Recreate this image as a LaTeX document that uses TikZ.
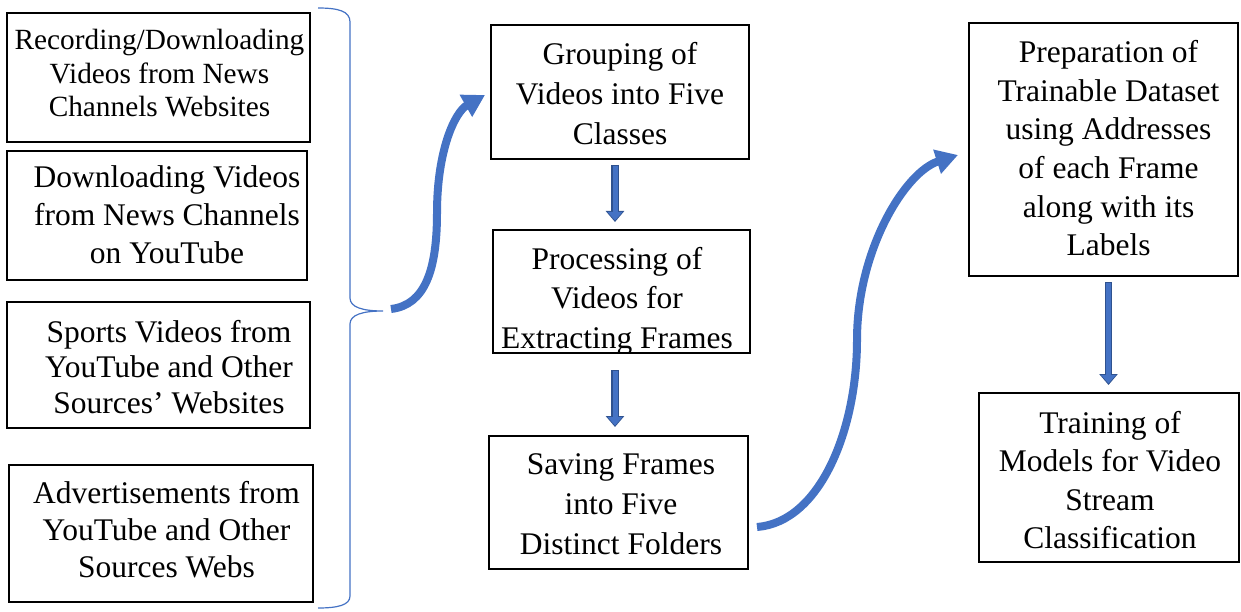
\documentclass[tikz,border=0pt]{standalone}
\usepackage{fontspec}
\setmainfont{Liberation Serif}
\usetikzlibrary{arrows.meta,calc,fit}
\definecolor{bfill}{HTML}{4472C4}
\definecolor{bline}{HTML}{2F528F}
\begin{document}
\begin{tikzpicture}[x=1pt,y=-1pt,
  box/.style={draw=black,line width=1.6pt,rectangle,inner sep=0pt,outer sep=0pt},
  txt/.style={align=center,anchor=base,inner sep=0pt,font=\fontsize{31.5}{39.5}\selectfont},
  brace/.style={draw=bfill,line width=1.2pt},
  flow/.style={draw=bfill,line width=8pt,-{Triangle[length=22pt,width=24pt]}},
  downout/.style={draw=bline,line width=7.5pt,-{Triangle[length=11pt,width=18pt]}},
  downin/.style={draw=bfill,line width=5pt,-{Triangle[length=8.5pt,width=14.5pt]}}]
\useasboundingbox (0,0) rectangle (1241,612);

% source boxes (text nodes are placed by the baseline of their last line)
\node[box,fit={(7,13) (310,142)}] (rec) {};
\node[txt,font=\fontsize{29.3}{33.5}\selectfont] (rect) at (159.5,117) {Recording/Downloading\\Videos from News\\Channels Websites};
\node[box,fit={(7,151) (307,280)}] (ytb) {};
\node[txt,font=\fontsize{31.5}{37.5}\selectfont] (ytbt) at (167,263) {Downloading Videos\\from News Channels\\on YouTube};
\node[box,fit={(7,302) (310,428)}] (spo) {};
\node[txt,font=\fontsize{31.5}{35.5}\selectfont] (spot) at (169,413) {Sports Videos from\\YouTube and Other\\Sources' Websites};
\node[box,fit={(9,465) (313,602)}] (adv) {};
\node[txt,font=\fontsize{31.5}{37}\selectfont] (advt) at (166.5,577) {Advertisements from\\YouTube and Other\\Sources Webs};

% brace gathering the sources
\coordinate (btip) at (383,311);
\draw[brace] (318,8) .. controls (338,8) and (350,11) .. (350,22) -- (350,298)
  .. controls (350,307) and (362,311) .. (btip)
  .. controls (362,311) and (350,315) .. (350,324) -- (350,596)
  .. controls (350,605) and (338,608) .. (318,608);

% middle column
\node[box,fit={(491,25) (749,159)}] (grp) {};
\node[txt,font=\fontsize{31.5}{40}\selectfont] (grpt) at (620,145) {Grouping of\\Videos into Five\\Classes};
\node[box,fit={(493,230) (750,353)}] (proc) {};
\begin{scope}
  \clip (proc.south west) rectangle (proc.north east);
  \node[txt] (proct) at (617,348) {Processing of\\Videos for\\Extracting Frames};
\end{scope}
\node[box,fit={(489,436) (748,569)}] (save) {};
\node[txt,font=\fontsize{31.5}{40}\selectfont] (savet) at (621,554) {Saving Frames\\into Five\\Distinct Folders};

% right column
\node[box,fit={(969,23) (1238,276)}] (prep) {};
\node[txt,font=\fontsize{31.5}{38.5}\selectfont] (prept) at (1108.5,255.5) {Preparation of\\Trainable Dataset\\using Addresses\\of each Frame\\along with its\\Labels};
\node[box,fit={(979,393) (1239,562)}] (train) {};
\node[txt,font=\fontsize{31.5}{38.5}\selectfont] (traint) at (1110,548.5) {Training of\\Models for Video\\Stream\\Classification};

% block arrows between steps
\coordinate (a1s) at ([xshift=-5pt]grp.south);
\coordinate (a1e) at (a1s |- proc.north);
\draw[downout,shorten <=6pt,shorten >=8pt] (a1s) -- (a1e);
\draw[downin,shorten <=7pt,shorten >=9.5pt] (a1s) -- (a1e);
\coordinate (a2s) at ([xshift=-6.5pt]proc.south);
\coordinate (a2e) at (a2s |- save.north);
\draw[downout,shorten <=17pt,shorten >=9pt] (a2s) -- (a2e);
\draw[downin,shorten <=18pt,shorten >=10.5pt] (a2s) -- (a2e);
\coordinate (a3s) at ([xshift=5pt]prep.south);
\coordinate (a3e) at (a3s |- train.north);
\draw[downout,shorten <=6pt,shorten >=8pt] (a3s) -- (a3e);
\draw[downin,shorten <=7pt,shorten >=9.5pt] (a3s) -- (a3e);

% curved flow arrows
\coordinate (s1) at ([shift={(8pt,2pt)}]btip);
\coordinate (e1) at ([shift={(-6pt,-3pt)}]grp.west);
\draw[flow] (s1) .. controls (425,305) and (437,270) .. (437,213)
  .. controls (437,150) and (455,112) .. (e1);
\coordinate (s2) at ([shift={(9pt,-24.5pt)}]save.east);
\coordinate (e2) at ([shift={(-11pt,-5.5pt)}]prep.west);
\draw[flow] (s2) .. controls (820,522) and (857,430) .. (857,340)
  .. controls (857,250) and (905,172) .. (e2);
\end{tikzpicture}
\end{document}
